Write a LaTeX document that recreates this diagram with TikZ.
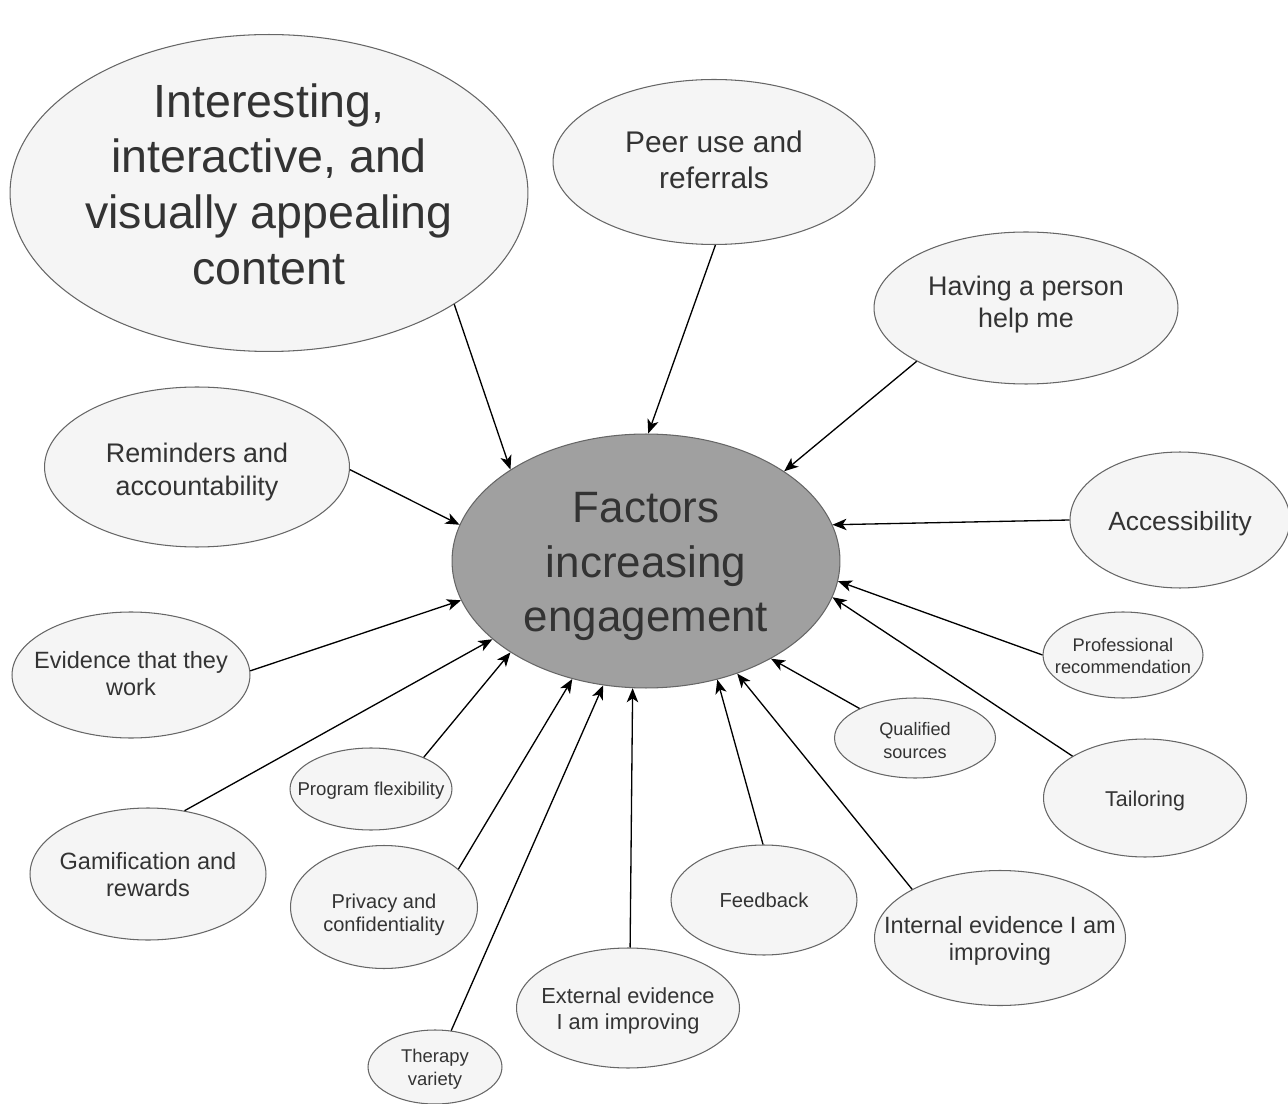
\documentclass[tikz,border=0pt]{standalone}
\usepackage{fontspec}
\setmainfont{Liberation Sans}
\usepackage{xcolor}
\usetikzlibrary{arrows.meta, shapes.geometric}

\definecolor{texto}{HTML}{333333}
\definecolor{borda}{HTML}{666666}
\definecolor{fundo}{HTML}{F5F5F5}
\definecolor{miolo}{HTML}{A0A0A0}

% texto centrado sem alterar o tamanho da elipse
\newcommand{\rotulo}[2][0.35em]{\makebox[0pt]{\smash{\raisebox{-#1}{\begin{tabular}[c]{@{}c@{}}#2\end{tabular}}}}}

\begin{document}
\begin{tikzpicture}[x=0.02cm, y=-0.02cm,
    fator/.style={ellipse, draw=borda, fill=fundo, line width=0.6pt, inner sep=0pt, text=texto},
    tam/.style 2 args={font=\fontsize{#1}{#2}\selectfont},
    seta/.style={-{Stealth[length=8pt, width=6.5pt, inset=2.2pt]}, line width=0.75pt}]

\useasboundingbox (0,0) rectangle (1288,1104);

% Elipse central
\node[fator, fill=miolo, minimum width=7.76cm, minimum height=5.08cm, tam={25}{31}] (center) at (646,561) {\rotulo[0.37em]{Factors\\increasing\\engagement}};

% Fatores de cima
\node[fator, minimum width=10.36cm, minimum height=6.34cm, tam={26.5}{31.7}] (inter) at (269,193) {\rotulo[0.16em]{Interesting,\\interactive, and\\visually appealing\\content}};
\node[fator, minimum width=6.44cm, minimum height=3.30cm, tam={17}{20.4}] (peer) at (714,162) {\rotulo[0.3em]{Peer use and\\referrals}};
\node[fator, minimum width=6.08cm, minimum height=3.04cm, tam={15.3}{18}] (person) at (1026,308) {\rotulo[0.12em]{Having a person\\help me}};

% Fatores da esquerda
\node[fator, minimum width=6.10cm, minimum height=3.20cm, tam={15.3}{18.7}] (remind) at (197,467) {\rotulo[0.45em]{Reminders and\\accountability}};
\node[fator, minimum width=4.76cm, minimum height=2.52cm, tam={13.4}{15.3}] (evid) at (131,675) {\rotulo{Evidence that they\\work}};
\node[fator, minimum width=4.72cm, minimum height=2.64cm, tam={13.4}{15.3}] (gamif) at (148,874) {\rotulo[0.42em]{Gamification and\\rewards}};
\node[fator, minimum width=3.24cm, minimum height=1.64cm, tam={10.6}{13}] (flex) at (371,789) {\rotulo[0.38em]{Program flexibility}};
\node[fator, minimum width=3.74cm, minimum height=2.46cm, tam={11.4}{13.6}] (privacy) at (384,907) {\rotulo[0.65em]{Privacy and\\confidentiality}};
\node[fator, minimum width=2.68cm, minimum height=1.48cm, tam={10.5}{13.6}] (therapy) at (435,1067) {\rotulo[0.38em]{Therapy\\variety}};

% Fatores de baixo
\node[fator, minimum width=4.46cm, minimum height=2.40cm, tam={12.4}{14.7}] (external) at (628,1008) {\rotulo[0.38em]{External evidence\\I am improving}};
\node[fator, minimum width=3.72cm, minimum height=2.20cm, tam={11.5}{13.6}] (feedback) at (764,900) {\rotulo[0.4em]{Feedback}};
\node[fator, minimum width=5.02cm, minimum height=2.70cm, tam={13.4}{15.8}] (internal) at (1000,938) {\rotulo[0.42em]{Internal evidence I am\\improving}};

% Fatores da direita
\node[fator, minimum width=4.40cm, minimum height=2.72cm, tam={15}{18}] (access) at (1180,520) {\rotulo[0.4em]{Accessibility}};
\node[fator, minimum width=3.20cm, minimum height=1.72cm, tam={10.4}{13}] (prof) at (1123,655) {\rotulo[0.4em]{Professional\\recommendation}};
\node[fator, minimum width=3.22cm, minimum height=1.60cm, tam={10.3}{13}] (qual) at (915,738) {\rotulo[0.48em]{Qualified\\sources}};
\node[fator, minimum width=4.06cm, minimum height=2.36cm, tam={12.2}{14.6}] (tailor) at (1145,798) {\rotulo[0.4em]{Tailoring}};

% Setas para a elipse central
\draw[seta] (inter.-31) -- (center.146);
\draw[seta] (peer.-89) -- (center.89);
\draw[seta] (person.206) -- (center.33);
\draw[seta] (remind.-1) -- (center.169);
\draw[seta] (evid.2) -- (center.-168);
\draw[seta] (gamif.60) -- (center.-153);
\draw[seta] (flex.31) -- (center.-146);
\draw[seta] (privacy.27) -- (center.-122);
\draw[seta] (therapy.66) -- (center.-109);
\draw[seta] (external.88) -- (center.-96);
\draw[seta] (feedback.91) -- (center.-59);
\draw[seta] (internal.151) -- (center.-51);
\draw[seta] (qual.152) -- (center.-38);
\draw[seta] (tailor.150) -- (center.-11);
\draw[seta] (prof.180) -- (center.-6);
\draw[seta] (access.180) -- (center.11);

\end{tikzpicture}
\end{document}
